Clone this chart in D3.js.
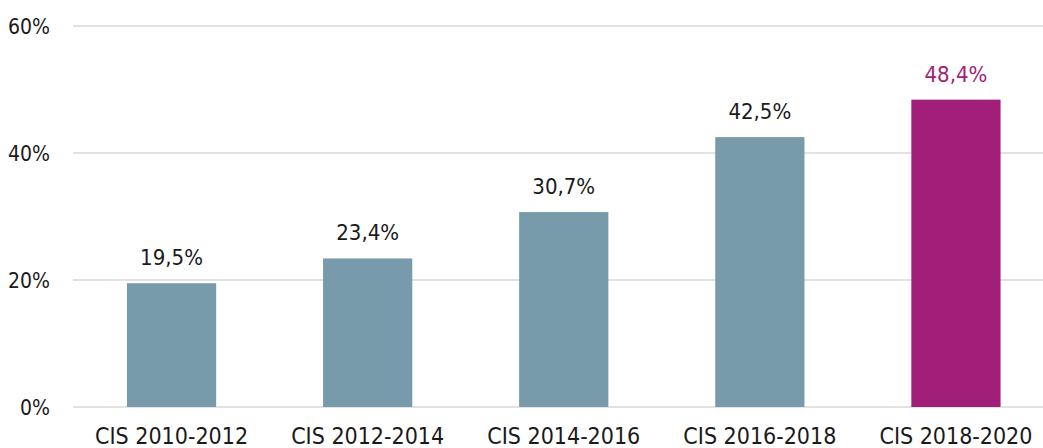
<!DOCTYPE html>
<meta charset="utf-8">
<body style="margin:0;background:#fff">
<script src="https://d3js.org/d3.v7.min.js"></script>
<div id="my_dataviz"></div>
<script>
    // data
    var categories = ["CIS 2010-2012", "CIS 2012-2014", "CIS 2014-2016", "CIS 2016-2018", "CIS 2018-2020"];
    var values = [19.5, 23.4, 30.7, 42.5, 48.4];
    var labels = ["19,5%", "23,4%", "30,7%", "42,5%", "48,4%"];
    var yTicks = [0, 20, 40, 60];
    var highlight = "CIS 2018-2020";

    var W = 1043, H = 448;
    var font = "'DejaVu Sans Condensed', 'Roboto', sans-serif";

    var svg = d3.select("#my_dataviz")
        .append("svg")
            .attr("width", W)
            .attr("height", H)
            .style("display", "block");

    var x = d3.scaleBand()
        .domain(categories)
        .range([73.5, 1054])
        .paddingInner(0.545)
        .paddingOuter(0.2725);

    var y = d3.scaleLinear()
        .domain([0, 60])
        .range([407, 26]);

    // gridlines
    svg.append("g")
        .selectAll("line")
        .data(yTicks)
        .enter()
        .append("line")
            .attr("x1", 73)
            .attr("x2", W)
            .attr("y1", function(d) { return y(d); })
            .attr("y2", function(d) { return y(d); })
            .attr("stroke", "#d9d9d9")
            .attr("stroke-width", 1.5);

    // y tick labels
    svg.append("g")
        .selectAll("text")
        .data(yTicks)
        .enter()
        .append("text")
            .attr("x", 50)
            .attr("y", function(d) { return y(d); })
            .attr("dy", "0.36em")
            .attr("text-anchor", "end")
            .style("font-family", font)
            .style("font-size", "21px")
            .style("fill", "#1a1a1a")
            .text(function(d) { return d + "%"; });

    // bars
    svg.append("g")
        .selectAll("rect")
        .data(values)
        .enter()
        .append("rect")
            .attr("x", function(d, i) { return x(categories[i]); })
            .attr("width", x.bandwidth())
            .attr("y", function(d) { return y(d); })
            .attr("height", function(d) { return y(0) - y(d); })
            .attr("fill", function(d, i) { return categories[i] === highlight ? "#a11f79" : "#789bab"; });

    // value labels
    svg.append("g")
        .selectAll("text")
        .data(values)
        .enter()
        .append("text")
            .attr("x", function(d, i) { return x(categories[i]) + x.bandwidth() / 2; })
            .attr("y", function(d) { return y(d) - 18; })
            .attr("text-anchor", "middle")
            .style("font-family", font)
            .style("font-size", "22px")
            .style("fill", function(d, i) { return categories[i] === highlight ? "#a11f79" : "#1a1a1a"; })
            .text(function(d, i) { return labels[i]; });

    // category labels
    svg.append("g")
        .selectAll("text")
        .data(categories)
        .enter()
        .append("text")
            .attr("x", function(d) { return x(d) + x.bandwidth() / 2; })
            .attr("y", 444)
            .attr("text-anchor", "middle")
            .style("font-family", font)
            .style("font-size", "23px")
            .style("fill", "#1a1a1a")
            .text(function(d) { return d; });
</script>
</body>
